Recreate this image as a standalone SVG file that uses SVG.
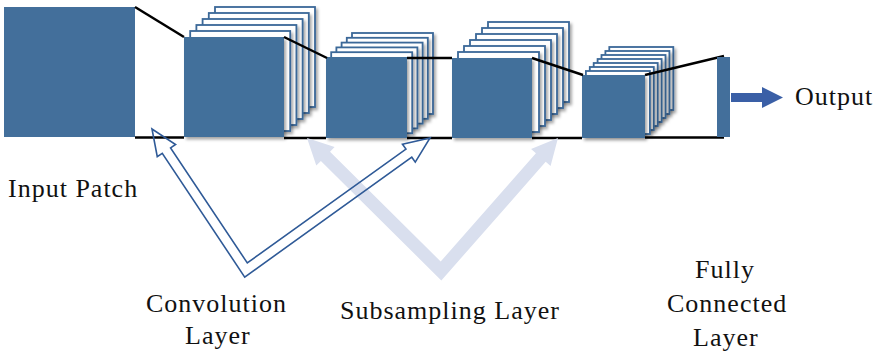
<svg xmlns="http://www.w3.org/2000/svg" width="876" height="353" viewBox="0 0 876 353">
<defs>
<filter id="sh" x="-15%" y="-15%" width="140%" height="140%">
<feDropShadow dx="2" dy="2.5" stdDeviation="1.6" flood-color="#000" flood-opacity="0.35"/>
</filter>
</defs>
<style>
.fm{fill:#fff;stroke:#3b6898;stroke-width:1.8;filter:url(#sh)}
.front{fill:#436f9b;filter:url(#sh)}
.ln{stroke:#000;stroke-width:2.5;fill:none}
.lbl{font-family:"Liberation Serif","Times New Roman",serif;font-size:26px;letter-spacing:1px;fill:#111}
.conv{fill:none;stroke:#2f5a97;stroke-width:1.6;stroke-linejoin:miter}
.sub{fill:#d9dfee;stroke:none}
</style>
<rect width="876" height="353" fill="#fff"/>

<g id="input-patch">
<rect x="4" y="7" width="131" height="130" fill="#436f9b"/>
</g>

<g id="conv1">
<rect class="fm" x="215" y="7" width="100" height="100"/>
<rect class="fm" x="208.8" y="13" width="100" height="100"/>
<rect class="fm" x="202.6" y="19" width="100" height="100"/>
<rect class="fm" x="196.4" y="25" width="100" height="100"/>
<rect class="fm" x="190.2" y="31" width="100" height="100"/>
<rect class="front" x="184" y="37" width="100" height="100"/>
</g>

<g id="sub1">
<rect class="fm" x="352" y="33" width="81" height="81"/>
<rect class="fm" x="346.8" y="37.8" width="81" height="81"/>
<rect class="fm" x="341.6" y="42.6" width="81" height="81"/>
<rect class="fm" x="336.4" y="47.4" width="81" height="81"/>
<rect class="fm" x="331.2" y="52.2" width="81" height="81"/>
<rect class="front" x="326" y="57" width="81" height="81"/>
</g>

<g id="conv2">
<rect class="fm" x="488" y="22" width="81" height="80"/>
<rect class="fm" x="482" y="28" width="81" height="80"/>
<rect class="fm" x="476" y="34" width="81" height="80"/>
<rect class="fm" x="470" y="40" width="81" height="80"/>
<rect class="fm" x="464" y="46" width="81" height="80"/>
<rect class="fm" x="458" y="52" width="81" height="80"/>
<rect class="front" x="452" y="58" width="80" height="80"/>
</g>

<g id="sub2">
<rect class="fm" x="609.3" y="47" width="64" height="63"/>
<rect class="fm" x="605.4" y="51" width="64" height="63"/>
<rect class="fm" x="601.5" y="55" width="64" height="63"/>
<rect class="fm" x="597.6" y="59" width="64" height="63"/>
<rect class="fm" x="593.7" y="63" width="64" height="63"/>
<rect class="fm" x="589.8" y="67" width="64" height="63"/>
<rect class="fm" x="585.9" y="71" width="64" height="63"/>
<rect class="front" x="582" y="75" width="63" height="63"/>
</g>

<g id="connectors">
<line class="ln" x1="135" y1="7" x2="184" y2="37"/>
<line class="ln" x1="284" y1="37" x2="327" y2="58"/>
<line class="ln" x1="407" y1="58" x2="452" y2="58"/>
<line class="ln" x1="532" y1="58" x2="583" y2="75"/>
<line class="ln" x1="645" y1="75" x2="724" y2="56"/>
<line class="ln" x1="135" y1="137.5" x2="184" y2="137.5"/>
<line class="ln" x1="284" y1="138" x2="326" y2="138"/>
<line class="ln" x1="407" y1="138" x2="452" y2="138"/>
<line class="ln" x1="532" y1="138" x2="582" y2="138"/>
<line class="ln" x1="645" y1="137.5" x2="724" y2="137.5"/>
<polygon id="output-arrow" fill="#3a5fa6" points="731,93 762,93 762,87 783,97.5 762,108 762,102 731,102"/>
<polygon id="subsampling-arrow" class="sub" points="307,138 316.29,165.54 320.87,160.92 441.32,280.47 545.7,161.82 550.58,166.12 558,138 531.06,148.94 535.94,153.24 440.68,261.53 330.03,151.7 334.61,147.08"/>
<polygon id="convolution-arrow" class="conv" points="152,129 157.27,156.73 162.26,153.4 244.71,277.08 411.79,157.22 415.28,162.1 430,138 402.46,144.22 405.96,149.1 247.29,262.92 170.58,147.86 175.57,144.53"/>
</g>

<g id="fc-layer">
<rect x="717" y="57" width="13" height="80" fill="#436f9b"/>
</g>

<g id="labels">
<text class="lbl" x="8" y="197">Input Patch</text>
<text class="lbl" x="146" y="312">Convolution</text>
<text class="lbl" x="185" y="344">Layer</text>
<text class="lbl" x="340" y="319">Subsampling Layer</text>
<text class="lbl" x="695" y="278">Fully</text>
<text class="lbl" x="667" y="312">Connected</text>
<text class="lbl" x="693" y="346">Layer</text>
<text class="lbl" x="795" y="105">Output</text>
</g>
</svg>
